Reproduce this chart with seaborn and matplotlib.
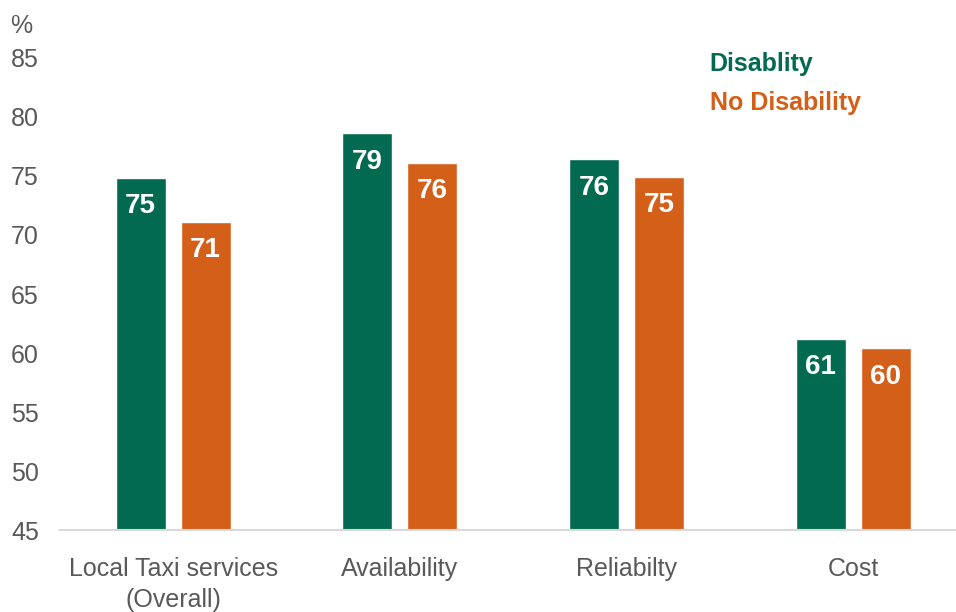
import matplotlib
matplotlib.use("Agg")
import matplotlib.pyplot as plt
import seaborn as sns
import pandas as pd

# Satisfaction with local taxi services, by disability status (%)
categories = ["Local Taxi services\n(Overall)", "Availability", "Reliabilty", "Cost"]
disability = [74.8, 78.6, 76.4, 61.2]
no_disability = [71.1, 76.1, 74.9, 60.4]
groups = ["Disablity", "No Disability"]
colors = ["#036A52", "#D45F18"]
yticks = [45, 50, 55, 60, 65, 70, 75, 80, 85]

df = pd.DataFrame({
    "category": categories * 2,
    "group": [groups[0]] * len(categories) + [groups[1]] * len(categories),
    "value": disability + no_disability,
})

sns.set_theme(style="white")
plt.rcParams["font.family"] = ["Liberation Sans", "DejaVu Sans"]

fig = plt.figure(figsize=(9.56, 6.12), dpi=100)
ax = fig.add_axes([0.0625, 0.1332, 0.9484, 0.7727])

sns.barplot(data=df, x="category", y="value", hue="group", order=categories,
            hue_order=groups, palette=colors, width=0.573, gap=0.23,
            saturation=1, ax=ax)

ax.set_ylim(45, 85)
ax.set_xlim(-0.5, 3.5)
ax.set_yticks(yticks)
ax.set_xlabel("")
ax.set_ylabel("")

for side in ["top", "right", "left"]:
    ax.spines[side].set_visible(False)
ax.spines["bottom"].set_color("#D9D9D9")
ax.spines["bottom"].set_linewidth(1.5)

ax.tick_params(axis="y", length=0, pad=15, labelsize=18, labelcolor="#595959")
ax.tick_params(axis="x", length=0, pad=19, labelsize=18, labelcolor="#595959")
for lbl in ax.get_xticklabels():
    lbl.set_linespacing(1.35)

# Value labels inside the top of each bar
for container in ax.containers:
    for bar in container:
        h = bar.get_height()
        ax.annotate(f"{h:.0f}", xy=(bar.get_x() + bar.get_width() / 2, h),
                    xytext=(0, -11), textcoords="offset points",
                    ha="center", va="top", color="white",
                    fontsize=20, fontweight="bold")

# Unit marker above the y axis
fig.text(10 / 956, 1 - 26 / 612, "%", fontsize=18, color="#595959",
         ha="left", va="center")

# Text-only legend
leg = ax.legend(frameon=False, loc="upper left", bbox_to_anchor=(0.692, 1.06),
                handlelength=0, handletextpad=0, labelspacing=0.6,
                prop={"size": 18, "weight": "bold"})
for handle in leg.legend_handles:
    handle.set_visible(False)
for text, c in zip(leg.get_texts(), colors):
    text.set_color(c)

fig.savefig("out.png", dpi=100)
